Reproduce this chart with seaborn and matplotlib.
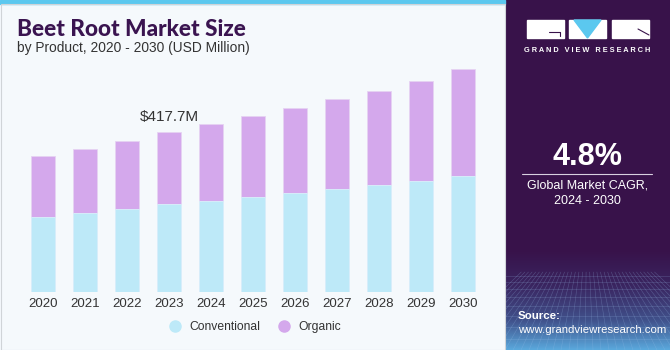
import numpy as np
import matplotlib
matplotlib.use("Agg")
import matplotlib.pyplot as plt
import seaborn as sns
from matplotlib.patches import Rectangle, Polygon
from matplotlib.lines import Line2D

# data (USD Million)
years = ["2020", "2021", "2022", "2023", "2024", "2025", "2026", "2027", "2028", "2029", "2030"]
conventional = [196, 206, 217, 229, 238, 248, 258, 269, 279, 291, 304]
organic = [158, 167, 177, 188.7, 200, 211, 222, 234, 247, 261, 277]
highlight_label = "$417.7M"
highlight_year = "2023"

conv_color = "#bde9f8"
org_color = "#d4a8ec"
bg = "#f5f9fc"
purple = "#38124a"

sns.set_style("white")
plt.rcParams["font.family"] = ["Liberation Sans", "DejaVu Sans"]

W, H = 670, 350
fig = plt.figure(figsize=(W / 100, H / 100), dpi=100, facecolor=bg)

# main bar axes
ax = fig.add_axes([22 / W, 58 / H, 462 / W, 234 / H])
ax.set_facecolor("none")
totals = [c + o for c, o in zip(conventional, organic)]
sns.barplot(x=years, y=totals, color=org_color, width=0.55, saturation=1,
            edgecolor="#e6d3f2", linewidth=0.6, ax=ax)
sns.barplot(x=years, y=conventional, color=conv_color, width=0.55, saturation=1,
            edgecolor="#d9f1fb", linewidth=0.6, ax=ax)
ax.set_ylim(0, 611)
ax.set_xlim(-0.5, len(years) - 0.5)
ax.set_yticks([])
ax.set_xlabel("")
ax.set_ylabel("")
for s in ax.spines.values():
    s.set_visible(False)
ax.tick_params(axis="x", length=0, pad=4, labelsize=9.5, labelcolor="#333333")

i = years.index(highlight_year)
ax.annotate(highlight_label, (i, totals[i]), xytext=(0, 6), textcoords="offset points",
            ha="center", va="bottom", fontsize=11, color="#333333")

# legend
handles = [Line2D([], [], marker="o", ls="", markersize=8, color=conv_color, label="Conventional"),
           Line2D([], [], marker="o", ls="", markersize=8, color=org_color, label="Organic")]
fig.legend(handles=handles, loc="center", bbox_to_anchor=(252 / W, 1 - 327 / H), ncol=2,
           frameon=False, fontsize=8.7, handletextpad=0.2, columnspacing=1.0, labelcolor="#333333")

# titles
fig.text(17 / W, 1 - 29 / H, "Beet Root Market Size", fontsize=16.3, fontweight="black",
         family=["Lato", "DejaVu Sans"], color="#3a1450", va="center", ha="left")
fig.text(17 / W, 1 - 48 / H, "by Product, 2020 - 2030 (USD Million)", fontsize=9.9,
         color="#333333", va="center", ha="left")

# top stripe and frame of the left panel
fig.patches.append(Rectangle((0, 1 - 4 / H), 505 / W, 4 / H, transform=fig.transFigure,
                             color="#5bc8ef", zorder=5))
fig.patches.append(Rectangle((0.5 / W, 0.5 / H), 504 / W, (H - 4.5) / H, transform=fig.transFigure,
                             fill=False, edgecolor="#d0d4d8", lw=0.8, zorder=5))

# right side panel in pixel coordinates
side = fig.add_axes([505 / W, 0, 165 / W, 1])
side.set_xlim(0, 165)
side.set_ylim(350, 0)
side.axis("off")
side.add_patch(Rectangle((0, 0), 165, 350, color=purple, zorder=0))

# bottom gradient with a faint grid
grad = np.linspace(0, 1, 200).reshape(-1, 1)
cmap = matplotlib.colors.LinearSegmentedColormap.from_list(
    "g", [(0, purple), (0.35, "#3a2560"), (0.7, "#40508a"), (1, "#5aa8dc")])
side.imshow(grad, extent=(0, 165, 350, 250), origin="upper", aspect="auto", cmap=cmap, zorder=1)
for k in range(-8, 30):
    xv = k * 8
    side.plot([82 + (xv - 82) * 0.45, xv], [272, 350], color="#9cc0ea", lw=0.4, alpha=0.3, zorder=2)
for yv in [276, 282, 289, 297, 306, 316, 327, 339]:
    side.plot([0, 165], [yv, yv], color="#9cc0ea", lw=0.4, alpha=0.3, zorder=2)

# logo
side.add_patch(Rectangle((22, 20), 37, 18, color="white", zorder=3))
side.add_patch(Rectangle((64, 20), 37, 18, color="white", zorder=3))
side.add_patch(Rectangle((107, 20), 37, 18, color="white", zorder=3))
side.add_patch(Polygon([[69, 20], [96, 20], [82.5, 38]], closed=True, color="#5bc8ef", zorder=4))
side.plot([44, 55, 55], [32, 32, 36], color=purple, lw=0.8, zorder=4)
side.plot([133, 144], [29, 35], color=purple, lw=0.8, zorder=4)
side.text(82.5, 50.5, "G R A N D   V I E W   R E S E A R C H", color="white", fontsize=5.3,
          fontweight="bold", ha="center", va="center", zorder=4)

side.text(82.5, 157, "4.8%", color="white", fontsize=22, fontweight="bold", ha="center",
          va="center", zorder=4)
side.plot([17, 147], [173.5, 173.5], color="#d8d0e0", lw=0.8, zorder=4)
side.text(82.5, 185, "Global Market CAGR,", color="white", fontsize=9, ha="center", va="center", zorder=4)
side.text(82.5, 201, "2024 - 2030", color="white", fontsize=9, ha="center", va="center", zorder=4)

side.text(13, 316, "Source:", color="white", fontsize=8.2, fontweight="bold", ha="left",
          va="center", zorder=4)
side.text(13, 330, "www.grandviewresearch.com", color="white", fontsize=8.2, ha="left",
          va="center", zorder=4)

fig.savefig("out.png", dpi=100, facecolor=bg)
